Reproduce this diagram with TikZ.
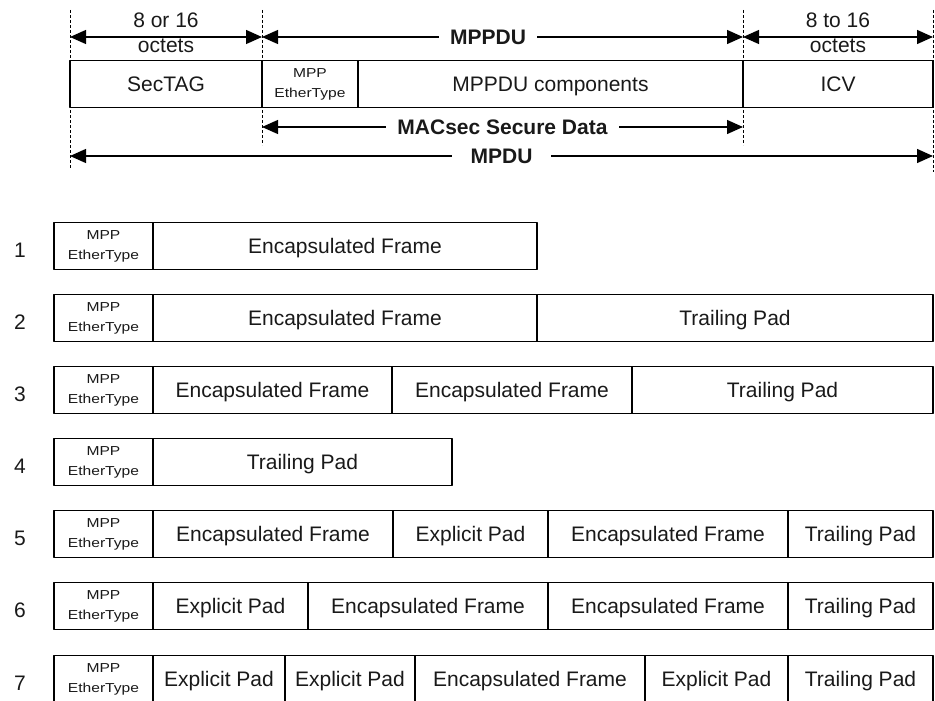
\documentclass[tikz,border=0pt]{standalone}
\usepackage{fontspec}
\setmainfont{Liberation Sans}
\newfontfamily\tinyfont[FakeStretch=1.2]{Liberation Sans}
\usetikzlibrary{arrows.meta,positioning}

\begin{document}
\begin{tikzpicture}[x=1pt, y=-1pt, line join=round, text=black!90,
		font=\fontsize{21}{27}\selectfont,
		>={Triangle[length=16pt,width=14pt]},
		cell/.style={draw, line width=1.3pt, minimum height=47pt, inner sep=0pt, outer sep=0pt, anchor=west, text height=15pt, text depth=0pt},
		ethr/.style={cell, minimum width=99pt, align=center, text height=, text depth=, font=\tinyfont\fontsize{13}{20}\selectfont},
		dimline/.style={<->, line width=1.3pt},
		guide/.style={dash pattern=on 3pt off 2pt, line width=1pt},
		lbl/.style={fill=white, inner xsep=11pt, font=\bfseries\fontsize{21}{27}\selectfont}]
	\useasboundingbox (0,0) rectangle (935,701);
	% MPDU layout
	\draw[guide] (70,10) -- (70,168);
	\draw[guide] (262,10) -- (262,145);
	\draw[guide] (743,10) -- (743,145);
	\draw[guide] (933,10) -- (933,172);
	\node[cell, minimum width=192pt] (sectag) at (70,84) {SecTAG};
	\node[ethr, minimum width=96pt, right=0pt of sectag] (tope) {MPP\\EtherType};
	\node[cell, minimum width=385pt, right=0pt of tope] (comp) {MPPDU components};
	\node[cell, minimum width=190pt, right=0pt of comp] (icv) {ICV};
	\coordinate (a1) at (70,37);
	\coordinate (a2) at (262,37);
	\coordinate (a3) at (743,37);
	\coordinate (a4) at (933,37);
	\coordinate (b1) at (262,127);
	\coordinate (b2) at (743,127);
	\coordinate (c1) at (70,156);
	\coordinate (c2) at (933,156);
	\draw[dimline] (a1) -- node[above=5pt]{8 or 16} node[below=-2pt]{octets} (a2);
	\draw[dimline] (a2) -- node[lbl, pos=0.47]{MPPDU} (a3);
	\draw[dimline] (a3) -- node[above=5pt]{8 to 16} node[below=-2pt]{octets} (a4);
	\draw[dimline] (b1) -- node[lbl]{MACsec Secure Data} (b2);
	\draw[dimline] (c1) -- node[lbl, inner xsep=19pt]{MPDU} (c2);
	% MPPDU examples
	\node (n1) at (20,250) {1};
	\node[ethr] (r1e) at (54,246) {MPP\\EtherType};
	\node[cell, minimum width=384pt, right=0pt of r1e] (r1a) {Encapsulated Frame};

	\node (n2) at (20,322) {2};
	\node[ethr] (r2e) at (54,318) {MPP\\EtherType};
	\node[cell, minimum width=384pt, right=0pt of r2e] (r2a) {Encapsulated Frame};
	\node[cell, minimum width=396pt, right=0pt of r2a] (r2b) {Trailing Pad};

	\node (n3) at (20,394) {3};
	\node[ethr] (r3e) at (54,390) {MPP\\EtherType};
	\node[cell, minimum width=239pt, right=0pt of r3e] (r3a) {Encapsulated Frame};
	\node[cell, minimum width=240pt, right=0pt of r3a] (r3b) {Encapsulated Frame};
	\node[cell, minimum width=301pt, right=0pt of r3b] (r3c) {Trailing Pad};

	\node (n4) at (20,466) {4};
	\node[ethr] (r4e) at (54,462) {MPP\\EtherType};
	\node[cell, minimum width=299pt, right=0pt of r4e] (r4a) {Trailing Pad};

	\node (n5) at (20,538) {5};
	\node[ethr] (r5e) at (54,534) {MPP\\EtherType};
	\node[cell, minimum width=240pt, right=0pt of r5e] (r5a) {Encapsulated Frame};
	\node[cell, minimum width=155pt, right=0pt of r5a] (r5b) {Explicit Pad};
	\node[cell, minimum width=240pt, right=0pt of r5b] (r5c) {Encapsulated Frame};
	\node[cell, minimum width=145pt, right=0pt of r5c] (r5d) {Trailing Pad};

	\node (n6) at (20,610) {6};
	\node[ethr] (r6e) at (54,606) {MPP\\EtherType};
	\node[cell, minimum width=155pt, right=0pt of r6e] (r6a) {Explicit Pad};
	\node[cell, minimum width=240pt, right=0pt of r6a] (r6b) {Encapsulated Frame};
	\node[cell, minimum width=240pt, right=0pt of r6b] (r6c) {Encapsulated Frame};
	\node[cell, minimum width=145pt, right=0pt of r6c] (r6d) {Trailing Pad};

	\node (n7) at (20,683) {7};
	\node[ethr] (r7e) at (54,679) {MPP\\EtherType};
	\node[cell, minimum width=132pt, right=0pt of r7e] (r7a) {Explicit Pad};
	\node[cell, minimum width=130pt, right=0pt of r7a] (r7b) {Explicit Pad};
	\node[cell, minimum width=230pt, right=0pt of r7b] (r7c) {Encapsulated Frame};
	\node[cell, minimum width=143pt, right=0pt of r7c] (r7d) {Explicit Pad};
	\node[cell, minimum width=145pt, right=0pt of r7d] (r7e2) {Trailing Pad};
\end{tikzpicture}
\end{document}
